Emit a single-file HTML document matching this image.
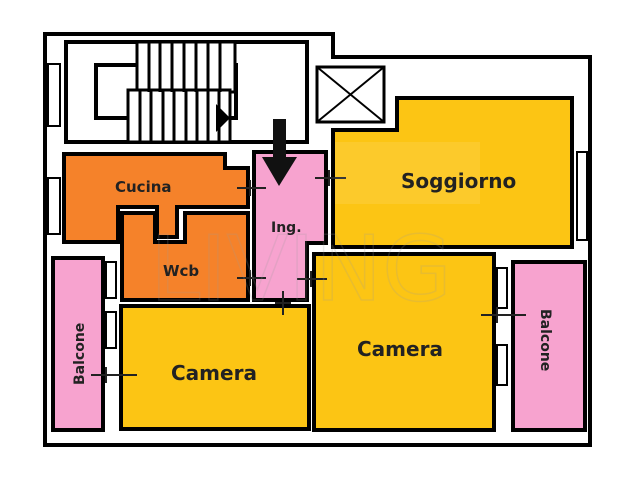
<!DOCTYPE html>
<html><head><meta charset="utf-8"><style>
html,body{margin:0;padding:0;background:#fff;width:640px;height:495px;overflow:hidden}
text{font-family:"DejaVu Sans","Liberation Sans",sans-serif;font-weight:bold;fill:#222}
</style></head><body>
<svg width="640" height="495" viewBox="0 0 640 495" xmlns="http://www.w3.org/2000/svg">
<rect width="640" height="495" fill="#fff"/>
<polygon points="45,34 333,34 333,57 590,57 590,445 45,445" fill="#fff" stroke="#000" stroke-width="4"/>
<g fill="#fff" stroke="#000" stroke-width="2">
<rect x="48" y="64" width="12" height="62"/>
<rect x="48" y="178" width="12" height="56"/>
<rect x="577" y="152" width="10" height="88"/>
</g>
<rect x="66" y="42" width="241" height="100" fill="#fff" stroke="#000" stroke-width="4"/>
<rect x="96" y="65" width="140" height="53" fill="#fff" stroke="#000" stroke-width="4"/>
<rect x="137" y="42" width="98" height="50" fill="#fff" stroke="#000" stroke-width="3"/>
<rect x="128" y="90" width="102" height="52" fill="#fff" stroke="#000" stroke-width="3"/>
<g stroke="#000" stroke-width="3">
<line x1="149" y1="42" x2="149" y2="92"/><line x1="160" y1="42" x2="160" y2="92"/><line x1="172" y1="42" x2="172" y2="92"/><line x1="184" y1="42" x2="184" y2="92"/><line x1="196" y1="42" x2="196" y2="92"/><line x1="208" y1="42" x2="208" y2="92"/><line x1="220" y1="42" x2="220" y2="92"/>
<line x1="140" y1="90" x2="140" y2="142"/><line x1="151" y1="90" x2="151" y2="142"/><line x1="163" y1="90" x2="163" y2="142"/><line x1="174" y1="90" x2="174" y2="142"/><line x1="186" y1="90" x2="186" y2="142"/><line x1="197" y1="90" x2="197" y2="142"/><line x1="208" y1="90" x2="208" y2="142"/><line x1="219" y1="90" x2="219" y2="142"/>
</g>
<polygon points="216,104 230,118 216,132" fill="#000"/>
<rect x="317" y="67" width="67" height="55" fill="#fff" stroke="#000" stroke-width="3"/>
<line x1="317" y1="67" x2="384" y2="122" stroke="#000" stroke-width="2"/>
<line x1="384" y1="67" x2="317" y2="122" stroke="#000" stroke-width="2"/>
<polygon points="333,130 397,130 397,98 572,98 572,247 333,247" fill="#fcc514" stroke="#000" stroke-width="4"/>
<polygon points="64,154 225,154 225,168 248,168 248,207 177,207 177,237 157,237 157,207 118,207 118,242 64,242" fill="#f5822a" stroke="#000" stroke-width="4"/>
<polygon points="122,213 155,213 155,242 185,242 185,213 248,213 248,300 122,300" fill="#f5822a" stroke="#000" stroke-width="4"/>
<polygon points="254,152 326,152 326,243 307,243 307,300 254,300" fill="#f7a3cf" stroke="#000" stroke-width="4"/>
<rect x="314" y="254" width="180" height="176" fill="#fcc514" stroke="#000" stroke-width="4"/>
<rect x="121" y="306" width="188" height="123" fill="#fcc514" stroke="#000" stroke-width="4"/>
<rect x="53" y="258" width="50" height="172" fill="#f7a3cf" stroke="#000" stroke-width="4"/>
<rect x="513" y="262" width="72" height="168" fill="#f7a3cf" stroke="#000" stroke-width="4"/>
<g fill="#fff" stroke="#000" stroke-width="2">
<rect x="106" y="262" width="10" height="36"/>
<rect x="106" y="312" width="10" height="36"/>
<rect x="497" y="268" width="10" height="40"/>
<rect x="497" y="345" width="10" height="40"/>
</g>
<g stroke="#222" stroke-width="2">
<line x1="237" y1="188" x2="266" y2="188"/><line x1="250" y1="180" x2="250" y2="196"/>
<line x1="315" y1="178" x2="346" y2="178"/><line x1="329" y1="170" x2="329" y2="186"/>
<line x1="237" y1="278" x2="266" y2="278"/><line x1="250" y1="270" x2="250" y2="286"/>
<line x1="297" y1="279" x2="327" y2="279"/><line x1="311" y1="271" x2="311" y2="287"/>
<line x1="283" y1="291" x2="283" y2="315"/><line x1="275" y1="303" x2="291" y2="303"/>
<line x1="91" y1="375" x2="137" y2="375"/><line x1="106" y1="367" x2="106" y2="383"/>
<line x1="481" y1="315" x2="526" y2="315"/><line x1="497" y1="307" x2="497" y2="323"/>
</g>
<rect x="273" y="119" width="13" height="38" fill="#111"/>
<polygon points="262,157 297,157 279,186" fill="#111"/>
<text x="150" y="300" font-size="90" style="font-weight:normal;fill:none;stroke:#999;stroke-opacity:.2;stroke-width:1.5">LIVING</text>
<rect x="335" y="142" width="145" height="62" fill="#fff" fill-opacity="0.1"/>
<text x="115" y="192" font-size="15">Cucina</text>
<text x="271" y="232" font-size="14">Ing.</text>
<text x="163" y="276" font-size="15">Wcb</text>
<text x="401" y="188" font-size="20">Soggiorno</text>
<text x="357" y="356" font-size="20">Camera</text>
<text x="171" y="380" font-size="20">Camera</text>
<text transform="translate(84,385) rotate(-90)" font-size="14">Balcone</text>
<text transform="translate(541,309) rotate(90)" font-size="14">Balcone</text>
</svg>
</body></html>
